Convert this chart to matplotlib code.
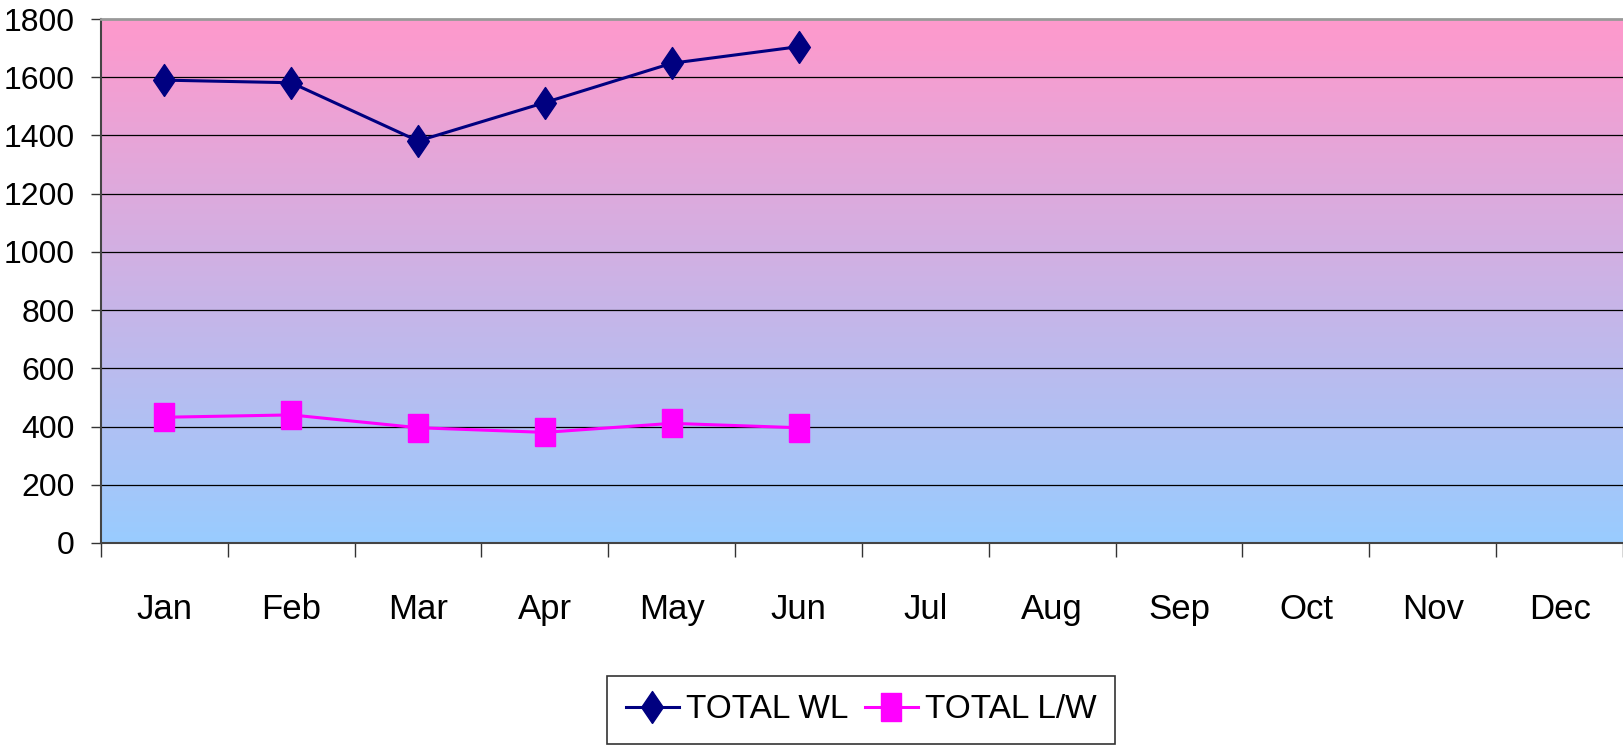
import matplotlib
matplotlib.use('Agg')
import matplotlib.pyplot as plt
import numpy as np
from matplotlib.colors import LinearSegmentedColormap

months = ['Jan', 'Feb', 'Mar', 'Apr', 'May', 'Jun', 'Jul', 'Aug', 'Sep', 'Oct', 'Nov', 'Dec']
total_wl = [1590, 1581, 1381, 1513, 1648, 1705]
total_lw = [432, 440, 396, 380, 411, 396]
yticks = [0, 200, 400, 600, 800, 1000, 1200, 1400, 1600, 1800]

plt.rcParams['font.family'] = ['Liberation Sans', 'DejaVu Sans']

fig = plt.figure(figsize=(16.23, 7.47), dpi=100)
ax = fig.add_axes([101/1623, 1-543/747, 1-101/1623, (543-19)/747])

n = len(months)
x = np.arange(1, n+1)

# background gradient, blue at bottom to pink at top
cmap = LinearSegmentedColormap.from_list('bg', ['#99ccff', '#ff99cc'])
grad = np.linspace(0, 1, 256).reshape(-1, 1)
ax.imshow(grad, cmap=cmap, origin='lower', aspect='auto',
          extent=[0.5, n+0.5, 0, 1800], zorder=0)

for v in yticks[1:-1]:
    ax.axhline(v, color='black', lw=0.9, zorder=1)

diamond = [(0, -0.5), (0.34, 0), (0, 0.5), (-0.34, 0), (0, -0.5)]
rect = [(-0.36, -0.5), (0.36, -0.5), (0.36, 0.5), (-0.36, 0.5), (-0.36, -0.5)]

ax.plot(x[:len(total_wl)], total_wl, color='#000080', lw=2.2, marker=diamond,
        markersize=23, markerfacecolor='#000080', markeredgecolor='#000080',
        label='TOTAL WL', zorder=3)
ax.plot(x[:len(total_lw)], total_lw, color='#ff00ff', lw=2.2, marker=rect,
        markersize=20, markerfacecolor='#ff00ff', markeredgecolor='#ff00ff',
        label='TOTAL L/W', zorder=3)

ax.set_xlim(0.5, n+0.5)
ax.set_ylim(0, 1800)

ax.set_yticks(yticks)
ax.tick_params(axis='y', length=7, width=1, pad=12, labelsize=23, color='#333333')

ax.set_xticks(np.arange(0.5, n+1.5, 1))
ax.set_xticklabels([])
ax.tick_params(axis='x', which='major', length=10, width=1, color='#333333')
ax.set_xticks(x, minor=True)
ax.set_xticklabels(months, minor=True)
ax.tick_params(axis='x', which='minor', length=0, pad=36, labelsize=25)

ax.spines['right'].set_visible(False)
ax.spines['top'].set_color('#999999')
ax.spines['top'].set_linewidth(2)
ax.spines['left'].set_color('#444444')
ax.spines['left'].set_linewidth(1.5)
ax.spines['bottom'].set_color('#444444')
ax.spines['bottom'].set_linewidth(1.5)

leg = fig.legend(loc='center', bbox_to_anchor=(861/1623, 1-710/747), ncol=2,
                 fontsize=24, frameon=True, fancybox=False, edgecolor='black',
                 handlelength=1.6, handletextpad=0.2, columnspacing=0.5,
                 borderpad=0.55)
leg.get_frame().set_linewidth(1.2)

fig.savefig('out.png', dpi=100)
